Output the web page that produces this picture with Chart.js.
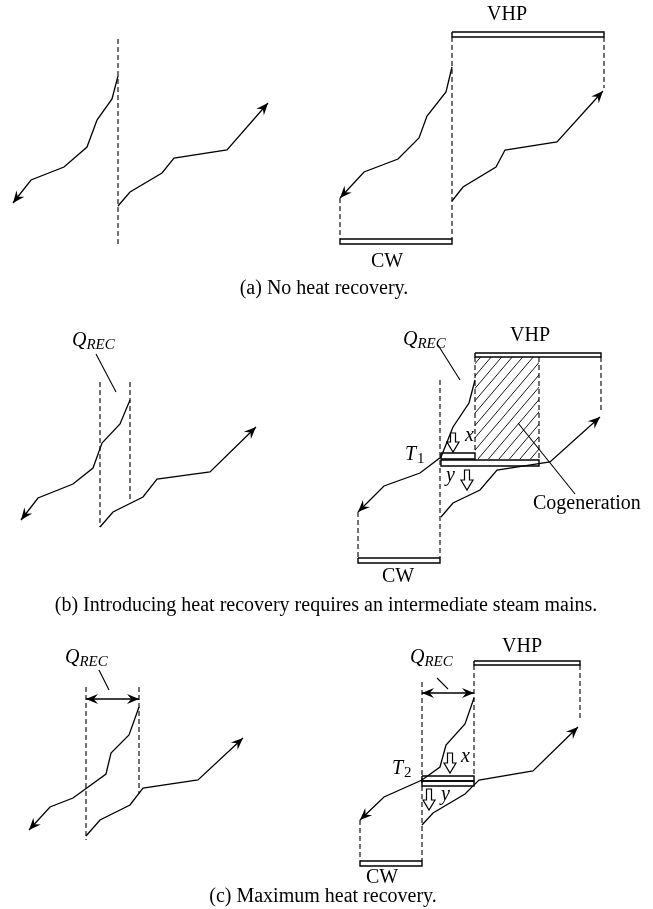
<!DOCTYPE html>
<html>
<head>
<meta charset="utf-8">
<script src="https://cdn.jsdelivr.net/npm/chart.js@4.4.1/dist/chart.umd.min.js"></script>
<style>
    html, body { margin: 0; padding: 0; background: #fff; }
    canvas { display: block; }
</style>
</head>
<body>
<canvas id="diagram" width="653" height="909"></canvas>
<script>
// diagram units: x to the right, y downwards (653 x 909)

// (a) no heat recovery
const hotA = [[118,76],[112,99],[97,120],[87,147],[64,167],[31,180],[13,203]];
const coldA = [[118,206],[130,192],[162,173],[174,158],[227,150],[268,103]];
const hotA2 = [[452,67],[446,92],[427,116],[419,138],[398,159],[364,172],[340,198]];
const coldA2 = [[452,201],[463,187],[496,167],[505,150],[557,142],[603,91]];

// (b) heat recovery with intermediate mains
const hotB = [[130,400],[120,424],[102,443],[93,468],[73,484],[38,498],[21,520]];
const coldB = [[100,527],[113,512],[143,497],[157,479],[210,472],[256,427]];
const hotB2 = [[475,380],[469,403],[453,427],[441,457],[420,473],[384,486],[358,512]];
const coldB2 = [[441,517],[453,503],[480,490],[497,470],[550,462],[600,417]];

// (c) maximum heat recovery
const hotC = [[139,707],[129,735],[111,753],[106,774],[73,798],[50,807],[29,830]];
const coldC = [[86,836],[100,820],[130,805],[143,788],[198,780],[243,738]];
const hotC2 = [[474,698],[465,724],[446,745],[440,767],[422,780],[384,797],[360,820]];
const coldC2 = [[422,825],[433,813],[465,794],[479,780],[533,771],[578,727]];

const dashes = [
    [[118,39],[118,245]], [[452,37],[452,239]], [[604,37],[604,88]], [[340,198],[340,239]],
    [[100,382],[100,527]], [[130,382],[130,499]],
    [[440,380],[440,558]], [[475,357],[475,453]], [[539,357],[539,460]], [[601,357],[601,413]], [[358,512],[358,558]],
    [[86,687],[86,840]], [[139,687],[139,793]],
    [[422,682],[422,861]], [[474,665],[474,776]], [[580,665],[580,718]], [[360,820],[360,861]]
];
const leaders = [
    [[96,354],[116,392]], [[438,345],[460,380]], [[518,423],[575,494]],
    [[99,670],[109,690]], [[437,678],[448,689]]
];
const spans = [[[86,699],[139,699]], [[422,693],[474,693]]];

// steam mains: [x1, x2, y1, y2]
const mains = [
    [452,604,32,37], [340,452,239,244],
    [475,601,353,357], [441,475,453,459], [441,539,460,466], [358,440,558,563],
    [474,580,661,665], [422,474,776,781], [422,474,781,786], [360,422,861,866]
];
const hatch = [475,539,357,459];
// hollow arrows: [x, top, tip]
const shifts = [[453,433,452],[467,470,490],[450,753,773],[429,789,810]];

const captions = [
    ["(a) No heat recovery.", 324, 289],
    ["(b) Introducing heat recovery requires an intermediate steam mains.", 326, 606],
    ["(c) Maximum heat recovery.", 323, 897]
];
const names = [
    ["VHP", 507, 15], ["CW", 387, 262],
    ["VHP", 530, 336], ["CW", 398, 577],
    ["VHP", 522, 647], ["CW", 382, 878]
];
const qLabels = [[72,346],[403,345],[65,663],[410,663]];
const tLabels = [["1",405,460],["2",392,774]];
const xyLabels = [["x",465,441],["y",446,481],["x",461,762],["y",441,800]];
const cogen = ["Cogeneration", 533, 504];

const SERIF = '"Liberation Serif", "DejaVu Serif", serif';

function line(points, opts) {
    return Object.assign({
        data: points.map(function (p) { return { x: p[0], y: p[1] }; }),
        showLine: true,
        borderColor: "#000",
        borderWidth: 1.3,
        pointRadius: 0,
        fill: false,
        tension: 0
    }, opts || {});
}

function rect(m) {
    return [[m[0],m[2]],[m[1],m[2]],[m[1],m[3]],[m[0],m[3]],[m[0],m[2]]];
}

var datasets = [];
dashes.forEach(function (d) { datasets.push(line(d, { borderWidth: 1.1, borderDash: [5, 3] })); });
leaders.forEach(function (d) { datasets.push(line(d, { borderWidth: 1.1 })); });
[hotA, coldA, hotA2, coldA2, hotB, coldB, hotB2, coldB2, hotC, coldC, hotC2, coldC2].forEach(function (d) {
    datasets.push(line(d, { arrow: "end" }));
});
spans.forEach(function (d) { datasets.push(line(d, { arrow: "both" })); });
mains.forEach(function (m) { datasets.push(line(rect(m), { borderWidth: 1.4 })); });

function arrowHead(ctx, tip, from) {
    var dx = tip.x - from.x, dy = tip.y - from.y;
    var len = Math.sqrt(dx * dx + dy * dy);
    var ux = dx / len, uy = dy / len;
    var L = 12, H = 5;
    ctx.beginPath();
    ctx.moveTo(tip.x, tip.y);
    ctx.lineTo(tip.x - L * ux - H * uy, tip.y - L * uy + H * ux);
    ctx.lineTo(tip.x - 0.65 * L * ux, tip.y - 0.65 * L * uy);
    ctx.lineTo(tip.x - L * ux + H * uy, tip.y - L * uy - H * ux);
    ctx.closePath();
    ctx.fill();
}

const diagramPlugin = {
    id: "diagram",
    beforeDatasetsDraw: function (chart) {
        var ctx = chart.ctx, xs = chart.scales.x, ys = chart.scales.y;
        // hatched cogeneration area
        var x1 = xs.getPixelForValue(hatch[0]), x2 = xs.getPixelForValue(hatch[1]);
        var y1 = ys.getPixelForValue(hatch[2]), y2 = ys.getPixelForValue(hatch[3]);
        var h = y2 - y1;
        ctx.save();
        ctx.beginPath();
        ctx.rect(x1, y1, x2 - x1, h);
        ctx.clip();
        ctx.strokeStyle = "#000";
        ctx.lineWidth = 0.9;
        for (var k = -h; k < x2 - x1 + h; k += 10.5) {
            ctx.beginPath();
            ctx.moveTo(x1 + k, y2);
            ctx.lineTo(x1 + k + h * 0.85, y1);
            ctx.stroke();
        }
        ctx.restore();
    },
    afterDatasetsDraw: function (chart) {
        var ctx = chart.ctx, xs = chart.scales.x, ys = chart.scales.y;
        var px = function (v) { return xs.getPixelForValue(v); };
        var py = function (v) { return ys.getPixelForValue(v); };
        ctx.save();
        ctx.fillStyle = "#000";
        chart.data.datasets.forEach(function (ds, i) {
            if (!ds.arrow) return;
            var pts = chart.getDatasetMeta(i).data;
            var n = pts.length;
            arrowHead(ctx, pts[n - 1], pts[n - 2]);
            if (ds.arrow == "both") arrowHead(ctx, pts[0], pts[1]);
        });

        // hollow arrows for x and y
        ctx.lineWidth = 1.2;
        shifts.forEach(function (s) {
            var cx = px(s[0]), top = py(s[1]), tip = py(s[2]);
            var base = tip - 10;
            ctx.beginPath();
            ctx.moveTo(cx - 2.5, top);
            ctx.lineTo(cx + 2.5, top);
            ctx.lineTo(cx + 2.5, base);
            ctx.lineTo(cx + 6, base);
            ctx.lineTo(cx, tip);
            ctx.lineTo(cx - 6, base);
            ctx.lineTo(cx - 2.5, base);
            ctx.closePath();
            ctx.fillStyle = "#fff";
            ctx.fill();
            ctx.stroke();
        });

        ctx.fillStyle = "#000";
        ctx.textBaseline = "middle";
        ctx.textAlign = "center";
        ctx.font = "20px " + SERIF;
        captions.concat(names).forEach(function (t) {
            ctx.fillText(t[0], px(t[1]), py(t[2]));
        });
        ctx.textAlign = "left";
        ctx.fillText(cogen[0], px(cogen[1]), py(cogen[2]));

        ctx.textBaseline = "alphabetic";
        qLabels.forEach(function (q) {
            ctx.font = "italic 20px " + SERIF;
            ctx.fillText("Q", px(q[0]), py(q[1]));
            var w = ctx.measureText("Q").width;
            ctx.font = "italic 15px " + SERIF;
            ctx.fillText("REC", px(q[0]) + w, py(q[1]) + 3);
        });
        tLabels.forEach(function (t) {
            ctx.font = "italic 20px " + SERIF;
            ctx.fillText("T", px(t[1]), py(t[2]));
            var w = ctx.measureText("T").width;
            ctx.font = "15px " + SERIF;
            ctx.fillText(t[0], px(t[1]) + w + 1, py(t[2]) + 3);
        });
        ctx.font = "italic 20px " + SERIF;
        xyLabels.forEach(function (t) {
            ctx.fillText(t[0], px(t[1]), py(t[2]));
        });
        ctx.restore();
    }
};

new Chart(document.getElementById("diagram"), {
    type: "scatter",
    data: { datasets: datasets },
    options: {
        responsive: false,
        devicePixelRatio: 1,
        animation: false,
        layout: { padding: 0 },
        plugins: { legend: { display: false }, tooltip: { enabled: false } },
        scales: {
            x: { type: "linear", min: 0, max: 653, display: false },
            y: { type: "linear", min: 0, max: 909, reverse: true, display: false }
        }
    },
    plugins: [diagramPlugin]
});
</script>
</body>
</html>
